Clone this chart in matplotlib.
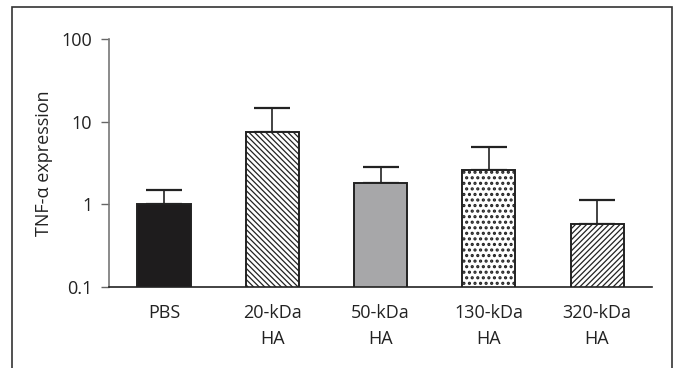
import numpy as np
import matplotlib
matplotlib.use("Agg")
import matplotlib.pyplot as plt
from matplotlib.patches import Rectangle

categories = ["PBS", "20-kDa\nHA", "50-kDa\nHA", "130-kDa\nHA", "320-kDa\nHA"]
means = [1.0, 7.6, 1.81, 2.63, 0.58]
err_top = [1.5, 14.5, 2.83, 4.93, 1.12]

plt.rcParams['font.family'] = ['Open Sans', 'DejaVu Sans']
plt.rcParams['hatch.color'] = '#222222'

fig = plt.figure(figsize=(6.74, 3.68), dpi=100)
ax = fig.add_axes([0.1617, 0.220, 0.8057, 0.674])

# frame round the whole figure
fig.patches.append(Rectangle((0.018, -0.01), 0.979, 0.99, transform=fig.transFigure,
                             fill=False, edgecolor='#333333', linewidth=1.2))

x = np.arange(len(categories))
fills = ['#1e1c1d', 'white', '#a7a7a9', 'white', 'white']
hatches = [None, '\\' * 6, None, '...', '/' * 6]
hatch_lw = [0.9, 0.9, 0.9, 1.5, 0.9]
for xi, m, fc, h, lw in zip(x, means, fills, hatches, hatch_lw):
    with plt.rc_context({'hatch.linewidth': lw}):
        ax.bar(xi, m, width=0.49, color=fc, edgecolor='#222222', linewidth=1.4,
               hatch=h, zorder=2)
yerr_up = np.array(err_top) - np.array(means)
ax.errorbar(x, means, yerr=[np.zeros(len(x)), yerr_up], fmt='none', ecolor='#222222',
            elinewidth=1.2, capsize=13, capthick=1.6, zorder=1)

ax.set_yscale('log')
ax.set_ylim(0.1, 100)
ax.set_xlim(-0.508, 4.508)
ax.set_yticks([0.1, 1, 10, 100])
ax.set_yticklabels(['0.1', '1', '10', '100'])
ax.minorticks_off()
ax.set_xticks(x)
ax.set_xticklabels(categories, linespacing=1.6)
ax.tick_params(axis='x', length=0, pad=12, labelsize=13, colors='#222222')
ax.tick_params(axis='y', length=6, width=1, pad=6, labelsize=13, colors='#222222',
               color='#666666')
for s in ['top', 'right']:
    ax.spines[s].set_visible(False)
ax.spines['left'].set_color('#777777')
ax.spines['bottom'].set_color('#222222')
ax.spines['left'].set_linewidth(1.2)
ax.spines['bottom'].set_linewidth(1.2)
ax.set_ylabel('TNF-α expression', fontsize=13, color='#222222', labelpad=6)

fig.savefig('out.png', dpi=100)
